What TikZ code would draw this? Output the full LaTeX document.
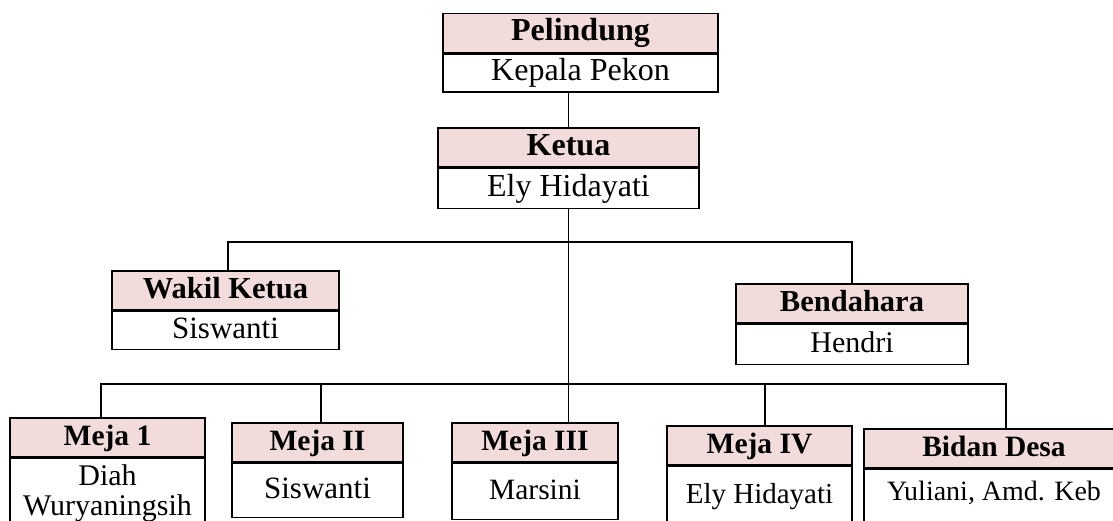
\documentclass[tikz,border=0pt]{standalone}
\usepackage{fontspec}
\setmainfont{Liberation Serif}
\usetikzlibrary{positioning}

\definecolor{headpink}{RGB}{242,220,219}
\newcommand{\boxfont}[1]{\fontsize{#1}{30}\selectfont}

\tikzset{
  head/.style={draw, line width=1.6pt, fill=headpink, font=\boxfont{#1}\bfseries,
    minimum height=39, inner sep=0, text height=22, text depth=7},
  head/.default=32,
  body/.style={draw, line width=1.6pt, fill=white, anchor=north, font=\boxfont{#1},
    inner sep=0, text height=22, text depth=7, align=center},
  body/.default=32,
  link/.style={line width=1.2pt}
}

\begin{document}
\begin{tikzpicture}[x=1pt, y=-1pt]
  \useasboundingbox (0,0) rectangle (1113,520);
  \clip (0,0) rectangle (1113,520);

  % top of the chart
  \node[head, minimum width=275] (pel) at (580.5,33) {Pelindung};
  \node[body, minimum width=275, minimum height=38] (pel-b) at (pel.south) {Kepala Pekon};
  \node[head, minimum width=261] (ket) at (568.5,147.5) {Ketua};
  \node[body, minimum width=261, minimum height=40] (ket-b) at (ket.south) {Ely Hidayati};

  % second row
  \node[head=30.5, minimum width=227] (wak) at (225.5,290.5) {Wakil Ketua};
  \node[body=31, minimum width=227, minimum height=38] (wak-b) at (wak.south) {Siswanti};
  \node[head=30.5, minimum width=232] (ben) at (852,303.5) {Bendahara};
  \node[body=30, minimum width=232, minimum height=40] (ben-b) at (ben.south) {Hendri};

  % the desks
  \node[head=29.5, minimum width=195] (m1) at (107.5,437.5) {Meja 1};
  \node[body=30, minimum width=195, minimum height=70, text height=, text depth=] (m1-b) at (m1.south)
    {Diah\\Wuryaningsih};
  \node[head=29.5, minimum width=171] (m2) at (317.5,442.5) {Meja II};
  \node[body=31, minimum width=171, minimum height=54] (m2-b) at (m2.south) {Siswanti};
  \node[head=29.5, minimum width=166] (m3) at (535,442.5) {Meja III};
  \node[body=29.5, minimum width=166, minimum height=56] (m3-b) at (m3.south) {Marsini};
  \node[head=29.5, minimum width=185] (m4) at (759.5,445.5) {Meja IV};
  \node[body=29, minimum width=185, minimum height=58] (m4-b) at (m4.south) {Ely Hidayati};
  \node[head=29.5, minimum width=260] (bd) at (994,448.5) {Bidan Desa};
  \node[body=28, minimum width=260, minimum height=56, text depth=17] (bd-b) at (bd.south) {Yuliani, Amd. Keb};

  % lines
  \coordinate (bar1) at (568,242);
  \coordinate (bar2) at (568,384);
  \draw[link] (pel-b.south -| ket.north) -- (ket.north);
  \draw[link] (ket-b.south) -- (ket-b.south |- m3.north);
  \draw[link] ([xshift=2.5]wak.north) |- (bar1) -| (ben.north);
  \draw[link] ([xshift=-6.5]m1.north) |- (bar2) -| ([xshift=12]bd.north);
  \draw[link] ([xshift=3.5]m2.north) -- ([xshift=3.5]m2.north |- bar2);
  \draw[link] ([xshift=5.5]m4.north) -- ([xshift=5.5]m4.north |- bar2);
\end{tikzpicture}
\end{document}
